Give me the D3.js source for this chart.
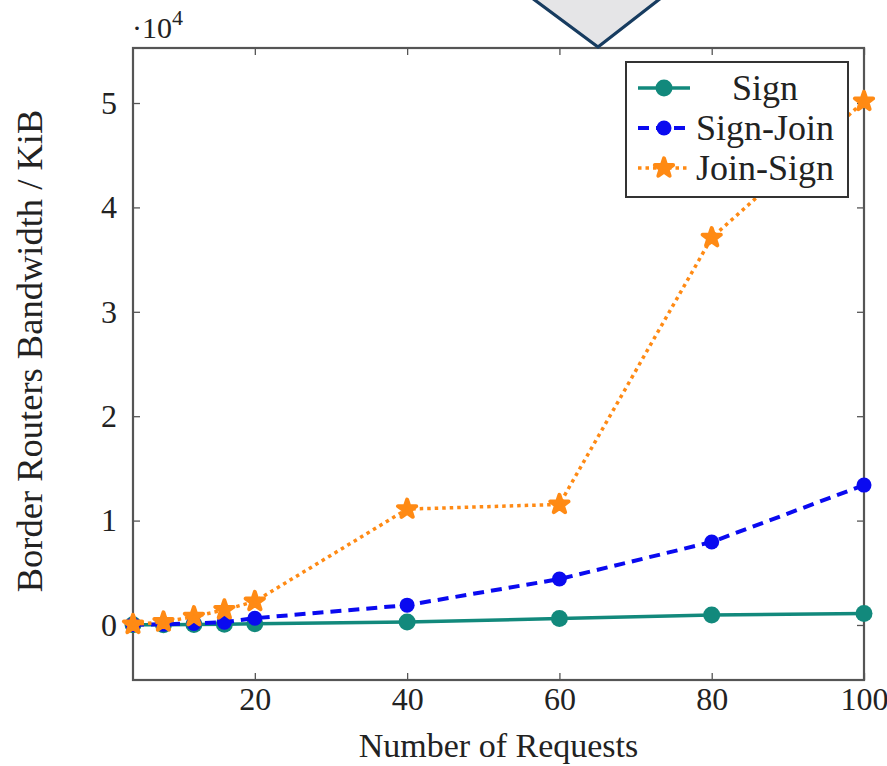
<!DOCTYPE html>
<html>
<head>
<meta charset="utf-8">
<script src="https://cdn.jsdelivr.net/npm/d3@7"></script>
<style>
  html, body { margin: 0; padding: 0; background: #fff; }
  svg { display: block; }
  text { font-family: "Liberation Serif", "DejaVu Serif", serif; fill: #222; }
</style>
</head>
<body>
<svg id="chart" width="887" height="766"></svg>
<script>
// Number of requests (x values shared by all series)
const requests = [4, 8, 12, 16, 20, 40, 60, 80, 100];

// Border router bandwidth in KiB for each strategy
const signValues     = [20, 30, 50, 80, 120, 290, 620, 950, 1100];
const signJoinValues = [30, 60, 150, 270, 650, 1900, 4400, 7950, 13400];
const joinSignValues = [50, 290, 800, 1450, 2250, 11100, 11550, 37100, 50150];

const seriesNames = ["Sign", "Sign-Join", "Join-Sign"];

const xTicks = [20, 40, 60, 80, 100];
const yTicks = [0, 10000, 20000, 30000, 40000, 50000];
const yTickLabels = ["0", "1", "2", "3", "4", "5"];

const xLabel = "Number of Requests";
const yLabel = "Border Routers Bandwidth / KiB";

const series = [
  { name: seriesNames[0], values: signValues,     color: "#12897c", width: 3.5, dash: null,    marker: "circle", r: 8.5 },
  { name: seriesNames[1], values: signJoinValues, color: "#0a0af0", width: 4,   dash: "11,7",  marker: "circle", r: 7.5 },
  { name: seriesNames[2], values: joinSignValues, color: "#ff8a14", width: 3.5, dash: "3.5,4", marker: "star",   r: 5.5 }
];

const svg = d3.select("#chart");
const plot = { left: 133, right: 864, top: 48, bottom: 680 };

const x = d3.scaleLinear().domain([4, 100]).range([plot.left, plot.right]);
const y = d3.scaleLinear().domain([-5270, 55270]).range([plot.bottom, plot.top]);

// Axes: ticks point inward on all four sides, labels on bottom and left only
const tickLen = 7;
const bottomAxis = svg.append("g")
  .attr("transform", `translate(0,${plot.bottom})`)
  .call(d3.axisBottom(x).tickValues(xTicks).tickSize(-tickLen).tickPadding(7).tickFormat(d3.format("d")));
const topAxis = svg.append("g")
  .attr("transform", `translate(0,${plot.top})`)
  .call(d3.axisTop(x).tickValues(xTicks).tickSize(-tickLen).tickFormat(""));
const leftAxis = svg.append("g")
  .attr("transform", `translate(${plot.left},0)`)
  .call(d3.axisLeft(y).tickValues(yTicks).tickSize(-tickLen).tickPadding(16)
    .tickFormat((d, i) => yTickLabels[i]));
const rightAxis = svg.append("g")
  .attr("transform", `translate(${plot.right},0)`)
  .call(d3.axisRight(y).tickValues(yTicks).tickSize(-tickLen).tickFormat(""));

[bottomAxis, topAxis, leftAxis, rightAxis].forEach(g => {
  g.select(".domain").remove();
  g.selectAll(".tick line").attr("stroke", "#555").attr("stroke-width", 1.3);
  g.selectAll(".tick text").attr("font-size", 32).attr("fill", "#2a2a2a")
    .attr("font-family", "'Liberation Serif', serif");
});
bottomAxis.selectAll(".tick text").attr("dy", "0.71em");

// Plot frame
svg.append("rect")
  .attr("x", plot.left).attr("y", plot.top)
  .attr("width", plot.right - plot.left).attr("height", plot.bottom - plot.top)
  .attr("fill", "none").attr("stroke", "#555").attr("stroke-width", 2.2);

// Scale multiplier note at the top of the y axis
const mult = svg.append("text").attr("x", 132).attr("y", 38).attr("font-size", 30);
mult.append("tspan").text("\u00B710");
mult.append("tspan").attr("dy", -13).attr("font-size", 22).text("4");

// Axis titles
svg.append("text")
  .attr("x", (plot.left + plot.right) / 2).attr("y", 757)
  .attr("text-anchor", "middle").attr("font-size", 34)
  .text(xLabel);
svg.append("text")
  .attr("transform", `translate(42,${(105 + 597) / 2}) rotate(-90)`)
  .attr("text-anchor", "middle").attr("font-size", 36.5)
  .text(yLabel);

// Series lines and markers
const line = d3.line().x((d, i) => x(requests[i])).y(d => y(d));
const star = d3.symbol().type(d3.symbolStar);

function drawMarker(g, s, cx, cy) {
  if (s.marker === "circle") {
    g.append("circle").attr("cx", cx).attr("cy", cy).attr("r", s.r).attr("fill", s.color);
  } else {
    g.append("path")
      .attr("d", star.size(s.r * s.r * 3.4)())
      .attr("transform", `translate(${cx},${cy})`)
      .attr("fill", s.color).attr("stroke", s.color).attr("stroke-width", 4)
      .attr("stroke-linejoin", "round");
  }
}

const dataLayer = svg.append("g");
series.forEach(s => {
  dataLayer.append("path")
    .datum(s.values)
    .attr("d", line)
    .attr("fill", "none")
    .attr("stroke", s.color)
    .attr("stroke-width", s.width)
    .attr("stroke-dasharray", s.dash)
    .attr("stroke-linejoin", "round");
  const mg = dataLayer.append("g");
  s.values.forEach((v, i) => drawMarker(mg, s, x(requests[i]), y(v)));
});

// Legend
const lg = svg.append("g");
lg.append("rect")
  .attr("x", 626).attr("y", 62).attr("width", 222).attr("height", 135)
  .attr("fill", "#fff").attr("stroke", "#333").attr("stroke-width", 2);
series.forEach((s, i) => {
  const cy = 88 + i * 40;
  lg.append("line")
    .attr("x1", 638).attr("x2", 690).attr("y1", cy).attr("y2", cy)
    .attr("stroke", s.color).attr("stroke-width", s.width)
    .attr("stroke-dasharray", s.dash);
  drawMarker(lg, s, 664, cy);
  lg.append("text")
    .attr("x", 765).attr("y", cy).attr("dy", "0.33em")
    .attr("text-anchor", "middle").attr("font-size", 36)
    .text(s.name);
});

// Callout pointer resting on the top edge of the frame
const pointer = d3.path();
pointer.moveTo(532, -2);
pointer.lineTo(598, plot.top - 1);
pointer.lineTo(661, -2);
svg.append("path")
  .attr("d", pointer.toString())
  .attr("fill", "#e5e5e7").attr("stroke", "#173c60").attr("stroke-width", 3.2)
  .attr("stroke-linejoin", "miter");
</script>
</body>
</html>
